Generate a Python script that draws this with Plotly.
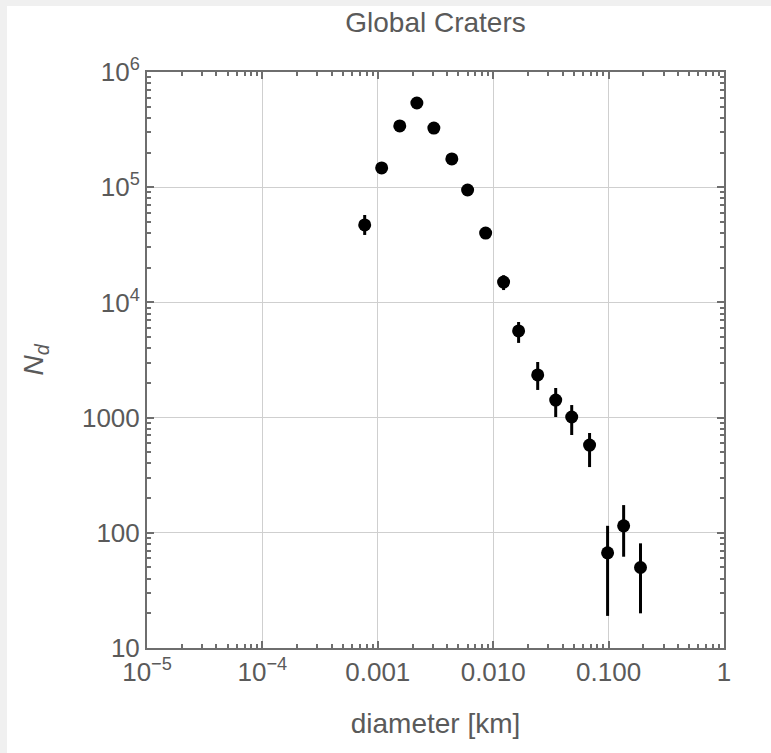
import plotly.graph_objects as go

# diameters (km) and crater counts N_d
diameter = [0.00077, 0.00108, 0.00155, 0.00218, 0.00306, 0.00438, 0.0060, 0.0086,
            0.0123, 0.0166, 0.0243, 0.0348, 0.0479, 0.0684, 0.098, 0.135, 0.189]
counts = [47000, 147000, 340000, 538000, 326000, 176000, 94600, 40000,
          15000, 5650, 2345, 1420, 1012, 578, 67, 115, 50]
err_up = [10400, 9000, 16000, 24000, 16000, 9000, 5000, 2500,
          2200, 1110, 695, 387, 273, 157, 48, 59, 31]
err_down = [8500, 8000, 15000, 22000, 15000, 8500, 4500, 2300,
            2200, 1200, 607, 408, 306, 206, 48, 53, 30]

x_tickvals = [1e-5, 1e-4, 1e-3, 1e-2, 1e-1, 1]
x_ticktext = ["10<sup>\u22125</sup>", "10<sup>\u22124</sup>", "0.001", "0.010", "0.100", "1"]
y_tickvals = [10, 100, 1000, 1e4, 1e5, 1e6]
y_ticktext = ["10", "100", "1000", "10<sup>4</sup>", "10<sup>5</sup>", "10<sup>6</sup>"]

x_minor = [m * 10 ** e for e in range(-5, 0) for m in range(2, 10)]
y_minor = [m * 10 ** e for e in range(1, 6) for m in range(2, 10)]

FONT = "Liberation Sans, Arial, sans-serif"
font_col = "#5a5a5a"

fig = go.Figure()
fig.add_trace(go.Scatter(
    x=diameter, y=counts, mode="markers",
    marker=dict(color="black", size=13),
    error_y=dict(type="data", array=err_up, arrayminus=err_down,
                 color="black", thickness=3, width=0),
    showlegend=False,
))

axis_common = dict(
    type="log", showline=True, linecolor="#6e6e6e", linewidth=2,
    mirror="allticks", ticks="inside", ticklen=7, tickwidth=1.5, tickcolor="#6e6e6e",
    showgrid=True, gridcolor="#cfcfcf", gridwidth=1, zeroline=False,
    tickfont=dict(family=FONT, size=26, color=font_col),
)

fig.update_xaxes(
    **axis_common,
    range=[-5, 0],
    tickvals=x_tickvals, ticktext=x_ticktext,
    minor=dict(tickvals=x_minor, ticks="inside", ticklen=4, tickcolor="#6e6e6e", showgrid=False),
    title=dict(text="diameter [km]", standoff=27,
               font=dict(family=FONT, size=28, color=font_col)),
)
fig.update_yaxes(
    **axis_common,
    range=[1, 6],
    tickvals=y_tickvals, ticktext=y_ticktext,
    minor=dict(tickvals=y_minor, ticks="inside", ticklen=4, tickcolor="#6e6e6e", showgrid=False),
    title=dict(text="<i>N<sub>d</sub></i>", standoff=30,
               font=dict(family=FONT, size=28, color=font_col)),
)

fig.update_layout(
    width=771, height=753,
    margin=dict(l=147, r=47, t=72, b=105),
    paper_bgcolor="#f0f0f0", plot_bgcolor="white",
    title=dict(text="Global Craters", x=(147 + 577 / 2) / 771, xanchor="center",
               y=1 - 22 / 753, yanchor="middle",
               font=dict(family=FONT, size=28, color=font_col)),
    shapes=[dict(type="rect", xref="paper", yref="paper", layer="below",
                 x0=-140 / 577, x1=(771 - 147) / 577 + 0.01,
                 y0=-0.2, y1=(648 - 6) / 576,
                 fillcolor="white", line=dict(width=0))],
)

fig.write_html("out.html", config={"displayModeBar": False},
               post_script="document.body.style.margin='0';document.body.style.background='#f0f0f0';")
